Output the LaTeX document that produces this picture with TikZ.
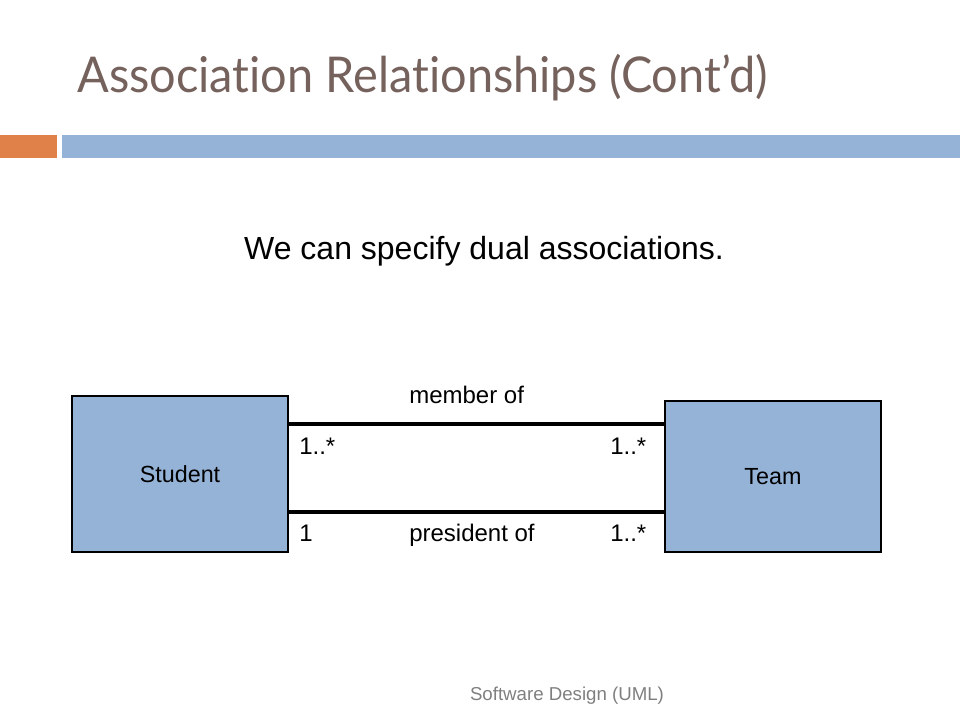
\documentclass[tikz,border=0pt]{standalone}
\usepackage{fontspec}
\setmainfont{Liberation Sans}
\newfontfamily\titlefont[Ligatures=NoCommon]{Lato}
\usepackage{graphicx}
\definecolor{titlecol}{HTML}{76625C}
\definecolor{barblue}{HTML}{95B3D7}
\definecolor{barorange}{HTML}{E0814A}
\definecolor{boxblue}{HTML}{95B3D7}
\definecolor{footgray}{HTML}{7F7F7F}
\tikzset{
  classbox/.style={draw=black, line width=0.8pt, fill=boxblue, minimum width=162pt, inner sep=0pt, font=\fontsize{17.5}{20}\selectfont},
  assoc/.style={line width=2.4pt, black},
  lbl/.style={font=\fontsize{18}{21}\selectfont, inner sep=0pt, anchor=base west},
}
\begin{document}
\begin{tikzpicture}[x=0.75pt,y=-0.75pt]
\useasboundingbox (0,0) rectangle (960,720);
% title
\node[anchor=base west, inner sep=0pt, text=titlecol] (title) at (77,93)
  {\resizebox{518pt}{\height}{\titlefont\fontsize{37}{44}\selectfont Association Relationships (Cont’d)}};
% bars
\fill[barorange] (0,135) rectangle (57,158);
\fill[barblue] (62,135) rectangle (960,158);
% subtitle
\node[anchor=base, inner sep=0pt, font=\fontsize{24}{28}\selectfont] (sub) at (484,260) {We can specify dual associations.};
% boxes
\node[classbox, minimum height=117pt] (student) at (180,474) {Student};
\node[classbox, minimum height=113.25pt] (team) at (773,476.5) {Team};
% associations
\coordinate (s1) at (288,424);
\coordinate (t1) at (665,424);
\coordinate (s2) at (288,512);
\coordinate (t2) at (665,512);
\draw[assoc] (s1) -- (t1);
\draw[assoc] (s2) -- (t2);
% labels
\node[lbl] (member) at (409,403) {member of};
\node[lbl] (m1) at (299,454) {1..*};
\node[lbl] (m2) at (610,454) {1..*};
\node[lbl] (p0) at (299,541) {1};
\node[lbl] (pres) at (409,541) {president of};
\node[lbl] (p2) at (610,541) {1..*};
% footer
\node[anchor=base, inner sep=0pt, text=footgray, font=\fontsize{14}{17}\selectfont] (foot) at (567,700) {Software Design (UML)};
\end{tikzpicture}
\end{document}
